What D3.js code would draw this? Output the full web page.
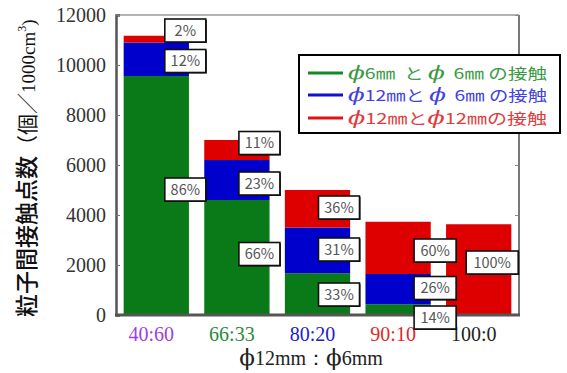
<!DOCTYPE html>
<html>
<head>
<meta charset="utf-8">
<script src="https://cdn.jsdelivr.net/npm/d3@7/dist/d3.min.js"></script>
<style>
  html, body { margin: 0; padding: 0; background: #fff; }
  svg { display: block; }
  text { white-space: pre; }
</style>
</head>
<body>
<svg id="chart" width="567" height="373"></svg>
<script>
// ---------- data ----------
const categories = ["40:60", "66:33", "80:20", "90:10", "100:0"];
const seriesKeys = ["g66", "b126", "r1212"];
const g66   = [9560, 4600, 1670, 430, 0];      // φ6mm と φ6mm の接触
const b126  = [1340, 1600, 1830, 1210, 0];     // φ12mm と φ6mm の接触
const r1212 = [270, 800, 1500, 2090, 3630];    // φ12mm と φ12mm の接触
const pctG  = ["86%", "66%", "33%", "14%", null];
const pctB  = ["12%", "23%", "31%", "26%", null];
const pctR  = ["2%", "11%", "36%", "60%", "100%"];
// value (y units) where each percent label box is centred
const labYG = [5020, 2440, 820, -100, null];
const labYB = [10160, 5260, 2620, 1080, null];
const labYR = [11380, 6880, 4300, 2580, 2100];
const yTicks = [0, 2000, 4000, 6000, 8000, 10000, 12000];
const legendLabels = ["ϕ6㎜  と ϕ  6㎜ の接触", "ϕ12㎜と ϕ  6㎜ の接触", "ϕ12㎜とϕ12㎜の接触"];
const xTitle = "ϕ12mm：ϕ6mm";

// ---------- style ----------
const barColors  = ["#097a17", "#0000cd", "#de0000"];
const lineColors = ["#138a24", "#1010d8", "#e01414"];
const textColors = ["#3a9a45", "#4242e0", "#e03c3c"];
const catColors  = ["#a040e0", "#2a8a3a", "#2020d0", "#e02828", "#222222"];
const labelDx    = [29, 22.5, 21.5, 37, 13.5];   // label box centre offset from bar centre
const boxW       = [41, 41, 41, 42, 52];

const L = 116, R = 519, T = 15, B = 315;
const svg = d3.select("#chart");

const x = d3.scaleBand().domain(categories).range([L, R]).paddingInner(0.19).paddingOuter(0.095);
const y = d3.scaleLinear().domain([0, 12000]).range([B, T]);

// write a string into a text element, enlarging the phi glyphs
function withPhi(sel, str, phiSize, phiFamily, phiStyle) {
  str.split(/(ϕ)/).filter(s => s.length).forEach(part => {
    const ts = sel.append("tspan").text(part);
    if (part === "ϕ") ts.attr("font-size", phiSize).attr("font-family", phiFamily).attr("font-style", phiStyle);
  });
}

// frame (top/right)
svg.append("line").attr("x1", L).attr("x2", R).attr("y1", T).attr("y2", T)
  .attr("stroke", "#9a9a9a").attr("stroke-width", 1.5);
svg.append("line").attr("x1", R).attr("x2", R).attr("y1", T).attr("y2", B)
  .attr("stroke", "#777").attr("stroke-width", 2);

// bars
const rows = categories.map((c, i) => ({ cat: c, g66: g66[i], b126: b126[i], r1212: r1212[i] }));
const stacked = d3.stack().keys(seriesKeys)(rows);
svg.append("g").selectAll("g").data(stacked).join("g")
  .attr("fill", (d, i) => barColors[i])
  .selectAll("rect").data(d => d.filter(s => s[1] - s[0] > 0)).join("rect")
  .attr("x", d => x(d.data.cat))
  .attr("width", x.bandwidth())
  .attr("y", d => y(d[1]))
  .attr("height", d => y(d[0]) - y(d[1]));

// y axis left
const yAxis = d3.axisLeft(y).tickValues(yTicks).tickSize(-4).tickPadding(10).tickFormat(d3.format("d"));
const ga = svg.append("g").attr("transform", `translate(${L},0)`).call(yAxis);
ga.select(".domain").attr("stroke", "#555").attr("stroke-width", 2.5);
ga.selectAll(".tick line").attr("stroke", "#777");
ga.selectAll(".tick text").attr("font-family", "'Liberation Serif', serif").attr("font-size", 20)
  .attr("fill", "#333");

// right ticks
const gr = svg.append("g").attr("transform", `translate(${R},0)`)
  .call(d3.axisRight(y).tickValues(yTicks).tickSize(-4).tickFormat(""));
gr.select(".domain").remove();
gr.selectAll(".tick line").attr("stroke", "#888");

// bottom axis
const xAxis = d3.axisBottom(x).tickSize(0).tickPadding(12);
const gx = svg.append("g").attr("transform", `translate(0,${B})`).call(xAxis);
gx.select(".domain").attr("stroke", "#555").attr("stroke-width", 3)
  .attr("d", `M${L - 1},0H${R + 1}`);
gx.selectAll(".tick text")
  .attr("font-family", "'Liberation Serif', serif").attr("font-size", 20)
  .attr("dx", -5)
  .attr("fill", (d, i) => catColors[i]);

// percent label boxes
const labels = [];
categories.forEach((c, i) => {
  [[pctG, labYG], [pctB, labYB], [pctR, labYR]].forEach(([p, ly]) => {
    if (p[i] != null) labels.push({ cat: c, i, text: p[i], v: ly[i] });
  });
});
const lg = svg.append("g").selectAll("g").data(labels).join("g")
  .attr("transform", d => `translate(${x(d.cat) + x.bandwidth() / 2 + labelDx[d.i]},${y(d.v)})`);
lg.append("rect")
  .attr("x", d => -boxW[d.i] / 2 + 1).attr("y", -11.5 + 1)
  .attr("width", d => boxW[d.i]).attr("height", 23).attr("fill", "#111");
lg.append("rect")
  .attr("x", d => -boxW[d.i] / 2).attr("y", -11.5)
  .attr("width", d => boxW[d.i]).attr("height", 23)
  .attr("fill", "#fff").attr("stroke", "#111").attr("stroke-width", 1.6);
lg.append("text").text(d => d.text)
  .attr("text-anchor", "middle").attr("dy", "0.36em")
  .attr("font-family", "'Noto Sans CJK JP', 'Noto Sans', sans-serif").attr("font-size", 14.5)
  .attr("fill", "#555");

// legend
const leg = svg.append("g");
leg.append("rect").attr("x", 299).attr("y", 55).attr("width", 261).attr("height", 78)
  .attr("fill", "#fff").attr("stroke", "#000").attr("stroke-width", 2);
const legRowY = [73, 95, 118];
legendLabels.forEach((t, i) => {
  leg.append("line").attr("x1", 308).attr("x2", 343).attr("y1", legRowY[i]).attr("y2", legRowY[i])
    .attr("stroke", lineColors[i]).attr("stroke-width", 3);
  const tx = leg.append("text").attr("x", 348).attr("y", legRowY[i] + 5.5)
    .attr("font-family", "'Noto Sans CJK JP', sans-serif").attr("font-size", 15)
    .attr("textLength", 199).attr("lengthAdjust", "spacingAndGlyphs")
    .attr("fill", textColors[i]);
  withPhi(tx, t, 19, "'DejaVu Serif', serif", "italic");
});

// x title
const xt = svg.append("text").attr("x", 311).attr("y", 365).attr("text-anchor", "middle")
  .attr("font-family", "'Liberation Serif', serif").attr("font-size", 20).attr("fill", "#222");
withPhi(xt, xTitle, 23, "'DejaVu Serif', serif", "normal");

// y title (rotated, reads bottom to top)
const yt = svg.append("text")
  .attr("transform", "translate(27,317) rotate(-90)")
  .attr("x", 0).attr("y", 8)
  .attr("text-anchor", "start")
  .attr("fill", "#111");
yt.append("tspan").attr("font-family", "'Noto Sans CJK JP', sans-serif").attr("font-weight", 500)
  .attr("font-size", 23).text("粒子間接触点数");
yt.append("tspan").attr("font-family", "'Noto Sans CJK JP', sans-serif").attr("font-size", 21).text("（個／");
yt.append("tspan").attr("font-family", "'Liberation Serif', serif").attr("font-size", 19).text("1000cm");
yt.append("tspan").attr("font-family", "'Liberation Serif', serif").attr("font-size", 12).attr("dy", -9).text("3");
yt.append("tspan").attr("font-family", "'Liberation Serif', serif").attr("font-size", 19).attr("dy", 9).text(")");
</script>
</body>
</html>
